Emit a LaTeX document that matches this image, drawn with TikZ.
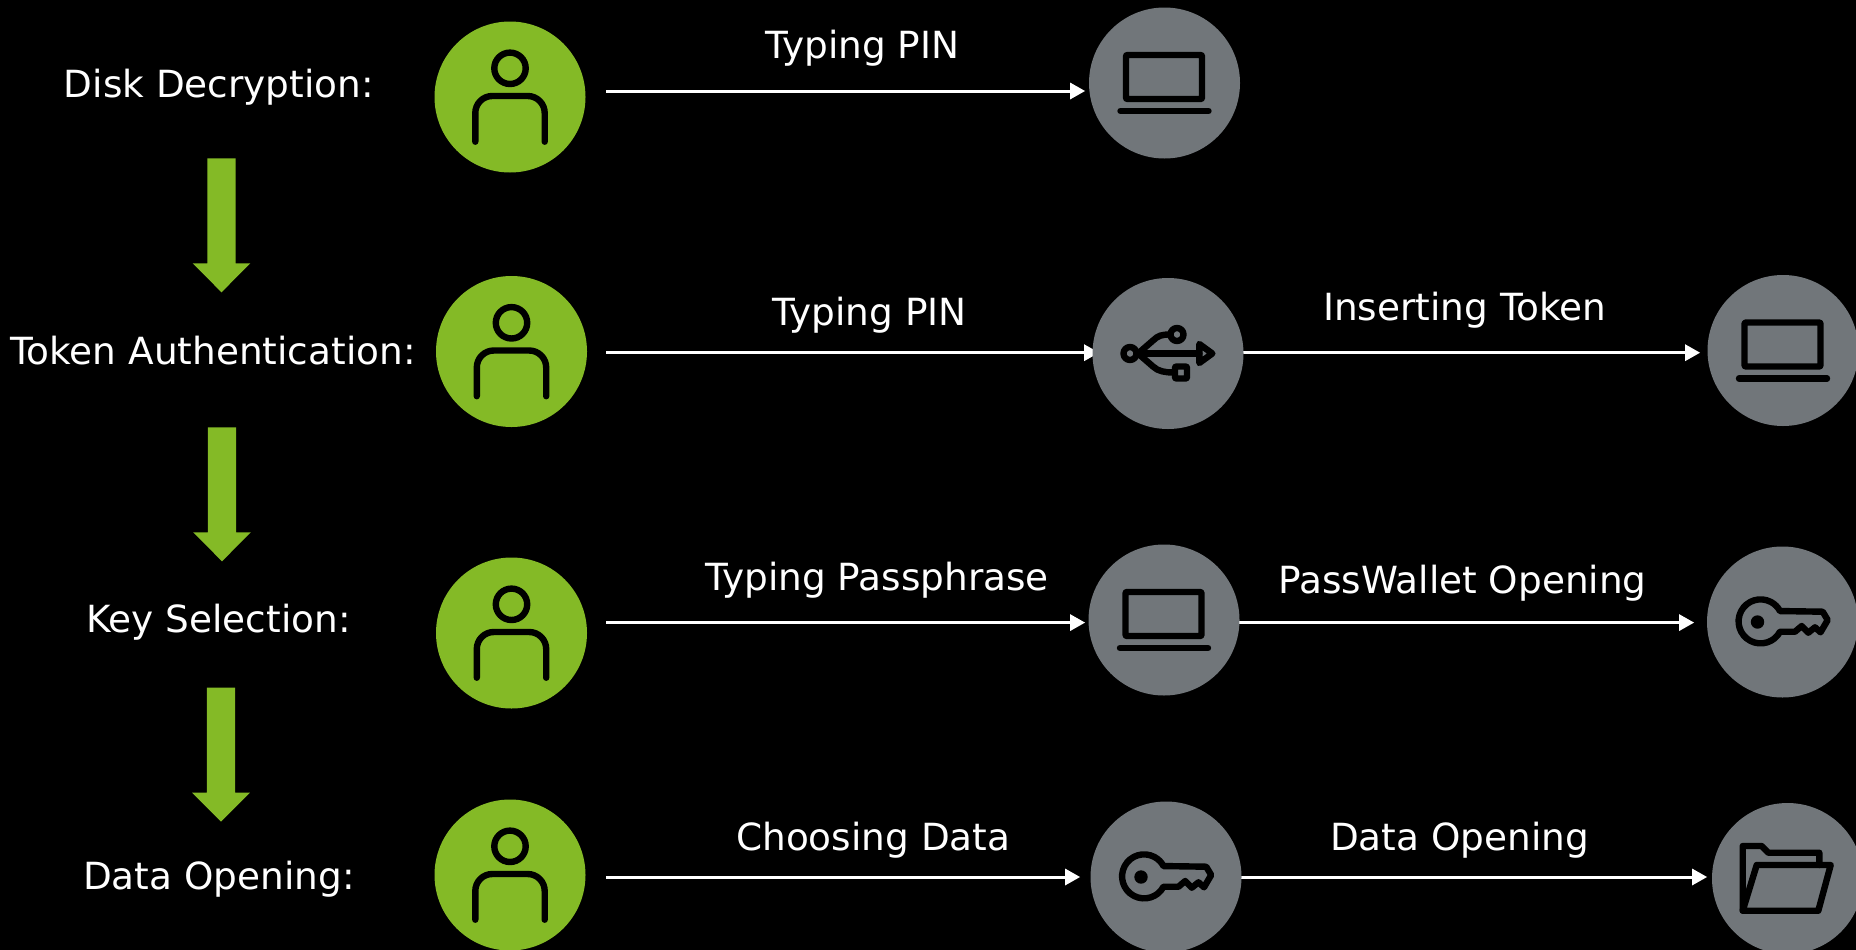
\documentclass[tikz,border=0pt]{standalone}
\usepackage{fontspec}
\setmainfont{DejaVu Sans}
\usetikzlibrary{arrows.meta}
\pgfdeclarelayer{bglayer}
\pgfsetlayers{bglayer,main}
\definecolor{nvgreen}{HTML}{84BA26}
\definecolor{nvgrey}{HTML}{71767A}
\tikzset{
  disc/.style={circle,minimum size=151bp,inner sep=0pt,draw=none},
  usercircle/.style={disc,fill=nvgreen},
  devcircle/.style={disc,fill=nvgrey},
  lbl/.style={text=white,font=\fontsize{37.4bp}{44bp}\selectfont,inner sep=0pt,anchor=base},
  flow/.style={draw=white,line width=3bp,-{Triangle[length=15bp,width=17bp,line width=0pt]}},
  downarrow/.pic={
    \fill[nvgreen] (-14.2,0) -- (14.2,0) -- (14.2,105) -- (28.8,105) -- (0,134) -- (-28.8,105) -- (-14.2,105) -- cycle;
  },
  ico/.style={draw=black,line width=6.4bp,line cap=round,line join=round},
  personicon/.pic={
    \draw[ico] (0,-28.7) circle[radius=15.7bp];
    \draw[ico,rounded corners=17bp] (-34.7,44.7) -- (-34.7,-1) -- (34.7,-1) -- (34.7,44.7);
  },
  laptopicon/.pic={
    \draw[ico,rounded corners=1bp] (-38.5,-28) rectangle (37.5,16);
    \draw[ico] (-44,28) -- (44,28);
  },
  usbicon/.pic={
    \draw[ico] (-38,0) circle[radius=6.5bp];
    \draw[ico] (9,-19) circle[radius=6.5bp];
    \draw[ico] (-31,0) -- (31.3,0);
    \draw[ico] (-30,0) -- (-15,-13) .. controls (-10,-18) and (-6,-19) .. (2,-19);
    \draw[ico] (-30,0) -- (-15,13) .. controls (-10,18) and (-2,19) .. (5,19);
    \draw[ico,rounded corners=1bp] (7,13) rectangle (19,25);
    \draw[ico] (31.3,-9.5) -- (44.3,0) -- (31.3,9.5) -- cycle;
  },
  keyicon/.pic={
    \draw[ico] (-2.5,9.7) arc[start angle=-28,end angle=-332,radius=22bp] -- (40.2,-10.3) -- (45.2,-2) -- (38,10.3) -- (32.5,5.3) -- (25.8,10.7) -- (19.2,4) -- (12.5,9.7) -- cycle;
    \fill[black] (-25,0) circle[radius=6.7bp];
  },
  foldericon/.pic={
    \draw[ico] (-44.8,32.2) -- (-44.8,-32.5) -- (-25.8,-32.5) -- (-19.2,-25.8) -- (31.8,-25.8) -- (31.8,-13.5);
    \draw[ico] (-44.8,32.2) -- (30.8,32.2) -- (43.2,-13.5) -- (-30.8,-13.5) -- cycle;
  }
}
\begin{document}
\begin{tikzpicture}[x=1bp,y=-1bp]
\useasboundingbox (0,0) rectangle (1856,949);
% discs
\node[usercircle] (p1) at (510,97) {};
\node[devcircle] (l1) at (1164.5,83) {};
\node[usercircle] (p2) at (511.5,351.5) {};
\node[devcircle] (u2) at (1168,353.5) {};
\node[devcircle] (l2) at (1783,350.5) {};
\node[usercircle] (p3) at (511.5,633) {};
\node[devcircle] (l3) at (1164,620) {};
\node[devcircle] (k3) at (1782.5,622) {};
\node[usercircle] (p4) at (510,875) {};
\node[devcircle] (k4) at (1166,877) {};
\node[devcircle] (f4) at (1787.5,878.5) {};
% icons
\pic at (p1) {personicon};
\pic at (p2) {personicon};
\pic at (p3) {personicon};
\pic at (p4) {personicon};
\pic at (l1) {laptopicon};
\pic at (l2) {laptopicon};
\pic at (l3) {laptopicon};
\pic at (u2) {usbicon};
\pic at (k3) {keyicon};
\pic at (k4) {keyicon};
\pic at (f4) {foldericon};
% labels
\node[lbl] (t1) at (218.9,97) {Disk Decryption:};
\node[lbl] (t2) at (212.9,364.5) {Token Authentication:};
\node[lbl] (t3) at (218.4,632) {Key Selection:};
\node[lbl] (t4) at (218.9,889) {Data Opening:};
\node[lbl] (a1) at (862.3,58) {Typing PIN};
\node[lbl] (a2) at (869.5,325) {Typing PIN};
\node[lbl] (a3) at (1464.8,320) {Inserting Token};
\node[lbl] (a4) at (877,590) {Typing Passphrase};
\node[lbl] (a5) at (1462.5,593) {PassWallet Opening};
\node[lbl] (a6) at (873.3,850) {Choosing Data};
\node[lbl] (a7) at (1459.5,850) {Data Opening};
% connector ends
\coordinate (s1) at (606,91);   \coordinate (e1) at (1085,91);
\coordinate (s2) at (606,352.7);\coordinate (e2) at (1099,352.7);
\coordinate (e3) at (1700,352.7);
\coordinate (s4) at (606,622.6);\coordinate (e4) at (1085,622.6);
\coordinate (e5) at (1694,622.6);
\coordinate (s6) at (606,877);  \coordinate (e6) at (1080,877);
\coordinate (e7) at (1707,877);
\begin{pgfonlayer}{bglayer}
\fill[black] (0,0) rectangle (1856,951);
\draw[flow] (s1) -- (e1);
\draw[flow] (s2) -- (e2);
\draw[flow] (u2 |- e3) -- (e3);
\draw[flow] (s4) -- (e4);
\draw[flow] (l3 |- e5) -- (e5);
\draw[flow] (s6) -- (e6);
\draw[flow] (k4 |- e7) -- (e7);
\pic at (221.5,158.3) {downarrow};
\pic at (222,427.3) {downarrow};
\pic at (221,687.7) {downarrow};
\end{pgfonlayer}
\end{tikzpicture}
\end{document}
